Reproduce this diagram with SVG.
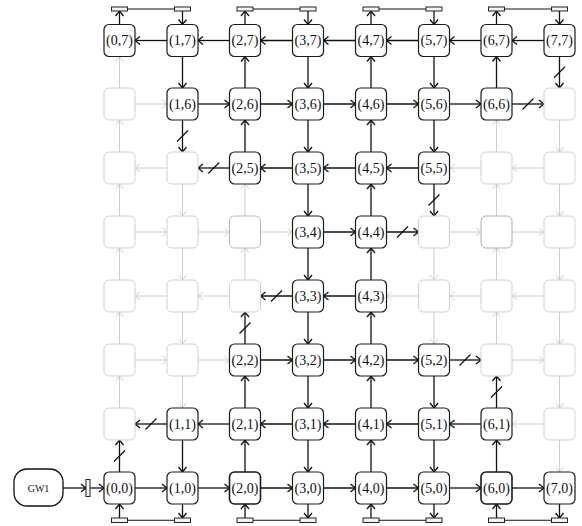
<svg xmlns="http://www.w3.org/2000/svg" width="582" height="526" viewBox="0 0 582 526">
  <style>
    .n rect { fill: #fff; stroke: #1a1a1a; stroke-width: 1.2; }
    .gn rect { fill: #fff; stroke: #d0d0d0; stroke-width: 1; }
    text { font-family: "Liberation Serif", "Times New Roman", serif; font-size: 14px; text-anchor: middle; dominant-baseline: central; fill: #111; }
    .k { stroke: #111; stroke-width: 1.3; fill: none; marker-end: url(#ah); }
    .g { stroke: #cccccc; stroke-width: 1; fill: none; marker-end: url(#ahg); }
    .s { stroke: #111; stroke-width: 1.3; }
    .port { fill: #f4f4f4; stroke: #222; stroke-width: 1; }
    .wire { stroke: #111; stroke-width: 1; }
  </style>
  <defs>
    <marker id="ah" viewBox="-7 -5 8 10" markerWidth="8" markerHeight="10" refX="0" refY="0" orient="auto" markerUnits="userSpaceOnUse" overflow="visible">
      <path d="M-5,-4 L0,0 L-5,4" fill="none" stroke="#111" stroke-width="1.3"/>
    </marker>
    <marker id="ahg" viewBox="-7 -5 8 10" markerWidth="8" markerHeight="10" refX="0" refY="0" orient="auto" markerUnits="userSpaceOnUse" overflow="visible">
      <path d="M-5,-4 L0,0 L-5,4" fill="none" stroke="#cccccc" stroke-width="1"/>
    </marker>
  </defs>
  <rect width="582" height="526" fill="#fff"/>

  <!-- links between routers -->
  <g id="edges">
    <!-- row 0 -->
    <line class="k" x1="135" y1="488" x2="167" y2="488"/>
    <line class="k" x1="198" y1="488" x2="229.5" y2="488"/>
    <line class="k" x1="260.5" y1="488" x2="292.5" y2="488"/>
    <line class="k" x1="323.5" y1="488" x2="355.5" y2="488"/>
    <line class="k" x1="386.5" y1="488" x2="418.5" y2="488"/>
    <line class="k" x1="449.5" y1="488" x2="481" y2="488"/>
    <line class="k" x1="512" y1="488" x2="544" y2="488"/>
    <!-- row 1 -->
    <line class="k" x1="167" y1="424" x2="135" y2="424"/>
    <line class="k" x1="229.5" y1="424" x2="198" y2="424"/>
    <line class="k" x1="292.5" y1="424" x2="260.5" y2="424"/>
    <line class="k" x1="355.5" y1="424" x2="323.5" y2="424"/>
    <line class="k" x1="418.5" y1="424" x2="386.5" y2="424"/>
    <line class="k" x1="481" y1="424" x2="449.5" y2="424"/>
    <line class="g" x1="544" y1="424" x2="512" y2="424"/>
    <!-- row 2 -->
    <line class="g" x1="135" y1="360" x2="167" y2="360"/>
    <line class="g" x1="198" y1="360" x2="229.5" y2="360"/>
    <line class="k" x1="260.5" y1="360" x2="292.5" y2="360"/>
    <line class="k" x1="323.5" y1="360" x2="355.5" y2="360"/>
    <line class="k" x1="386.5" y1="360" x2="418.5" y2="360"/>
    <line class="k" x1="449.5" y1="360" x2="481" y2="360"/>
    <line class="g" x1="512" y1="360" x2="544" y2="360"/>
    <!-- row 3 -->
    <line class="g" x1="167" y1="296" x2="135" y2="296"/>
    <line class="g" x1="229.5" y1="296" x2="198" y2="296"/>
    <line class="k" x1="292.5" y1="296" x2="260.5" y2="296"/>
    <line class="k" x1="355.5" y1="296" x2="323.5" y2="296"/>
    <line class="g" x1="418.5" y1="296" x2="386.5" y2="296"/>
    <line class="g" x1="481" y1="296" x2="449.5" y2="296"/>
    <line class="g" x1="544" y1="296" x2="512" y2="296"/>
    <!-- row 4 -->
    <line class="g" x1="135" y1="232" x2="167" y2="232"/>
    <line class="g" x1="198" y1="232" x2="229.5" y2="232"/>
    <line class="g" x1="260.5" y1="232" x2="292.5" y2="232"/>
    <line class="k" x1="323.5" y1="232" x2="355.5" y2="232"/>
    <line class="k" x1="386.5" y1="232" x2="418.5" y2="232"/>
    <line class="g" x1="449.5" y1="232" x2="481" y2="232"/>
    <line class="g" x1="512" y1="232" x2="544" y2="232"/>
    <!-- row 5 -->
    <line class="g" x1="167" y1="168" x2="135" y2="168"/>
    <line class="k" x1="229.5" y1="168" x2="198" y2="168"/>
    <line class="k" x1="292.5" y1="168" x2="260.5" y2="168"/>
    <line class="k" x1="355.5" y1="168" x2="323.5" y2="168"/>
    <line class="k" x1="418.5" y1="168" x2="386.5" y2="168"/>
    <line class="g" x1="481" y1="168" x2="449.5" y2="168"/>
    <line class="g" x1="544" y1="168" x2="512" y2="168"/>
    <!-- row 6 -->
    <line class="g" x1="135" y1="104" x2="167" y2="104"/>
    <line class="k" x1="198" y1="104" x2="229.5" y2="104"/>
    <line class="k" x1="260.5" y1="104" x2="292.5" y2="104"/>
    <line class="k" x1="323.5" y1="104" x2="355.5" y2="104"/>
    <line class="k" x1="386.5" y1="104" x2="418.5" y2="104"/>
    <line class="k" x1="449.5" y1="104" x2="481" y2="104"/>
    <line class="k" x1="512" y1="104" x2="544" y2="104"/>
    <!-- row 7 -->
    <line class="k" x1="167" y1="40.5" x2="135" y2="40.5"/>
    <line class="k" x1="229.5" y1="40.5" x2="198" y2="40.5"/>
    <line class="k" x1="292.5" y1="40.5" x2="260.5" y2="40.5"/>
    <line class="k" x1="355.5" y1="40.5" x2="323.5" y2="40.5"/>
    <line class="k" x1="418.5" y1="40.5" x2="386.5" y2="40.5"/>
    <line class="k" x1="481" y1="40.5" x2="449.5" y2="40.5"/>
    <line class="k" x1="544" y1="40.5" x2="512" y2="40.5"/>

    <!-- column 0 (upward) -->
    <line class="k" x1="119.5" y1="472" x2="119.5" y2="440"/>
    <line class="g" x1="119.5" y1="408" x2="119.5" y2="376"/>
    <line class="g" x1="119.5" y1="344" x2="119.5" y2="312"/>
    <line class="g" x1="119.5" y1="280" x2="119.5" y2="248"/>
    <line class="g" x1="119.5" y1="216" x2="119.5" y2="184"/>
    <line class="g" x1="119.5" y1="152" x2="119.5" y2="120"/>
    <line class="g" x1="119.5" y1="88" x2="119.5" y2="56.5"/>
    <!-- column 1 (downward) -->
    <line class="k" x1="182.5" y1="440" x2="182.5" y2="472"/>
    <line class="g" x1="182.5" y1="376" x2="182.5" y2="408"/>
    <line class="g" x1="182.5" y1="312" x2="182.5" y2="344"/>
    <line class="g" x1="182.5" y1="248" x2="182.5" y2="280"/>
    <line class="g" x1="182.5" y1="184" x2="182.5" y2="216"/>
    <line class="k" x1="182.5" y1="120" x2="182.5" y2="152"/>
    <line class="k" x1="182.5" y1="56.5" x2="182.5" y2="88"/>
    <!-- column 2 (upward) -->
    <line class="k" x1="245" y1="472" x2="245" y2="440"/>
    <line class="k" x1="245" y1="408" x2="245" y2="376"/>
    <line class="k" x1="245" y1="344" x2="245" y2="312"/>
    <line class="g" x1="245" y1="280" x2="245" y2="248"/>
    <line class="g" x1="245" y1="216" x2="245" y2="184"/>
    <line class="k" x1="245" y1="152" x2="245" y2="120"/>
    <line class="k" x1="245" y1="88" x2="245" y2="56.5"/>
    <!-- column 3 (downward) -->
    <line class="k" x1="308" y1="440" x2="308" y2="472"/>
    <line class="k" x1="308" y1="376" x2="308" y2="408"/>
    <line class="k" x1="308" y1="312" x2="308" y2="344"/>
    <line class="k" x1="308" y1="248" x2="308" y2="280"/>
    <line class="k" x1="308" y1="184" x2="308" y2="216"/>
    <line class="k" x1="308" y1="120" x2="308" y2="152"/>
    <line class="k" x1="308" y1="56.5" x2="308" y2="88"/>
    <!-- column 4 (upward) -->
    <line class="k" x1="371" y1="472" x2="371" y2="440"/>
    <line class="k" x1="371" y1="408" x2="371" y2="376"/>
    <line class="k" x1="371" y1="344" x2="371" y2="312"/>
    <line class="k" x1="371" y1="280" x2="371" y2="248"/>
    <line class="k" x1="371" y1="216" x2="371" y2="184"/>
    <line class="k" x1="371" y1="152" x2="371" y2="120"/>
    <line class="k" x1="371" y1="88" x2="371" y2="56.5"/>
    <!-- column 5 (downward) -->
    <line class="k" x1="434" y1="440" x2="434" y2="472"/>
    <line class="k" x1="434" y1="376" x2="434" y2="408"/>
    <line class="g" x1="434" y1="312" x2="434" y2="344"/>
    <line class="g" x1="434" y1="248" x2="434" y2="280"/>
    <line class="k" x1="434" y1="184" x2="434" y2="216"/>
    <line class="k" x1="434" y1="120" x2="434" y2="152"/>
    <line class="k" x1="434" y1="56.5" x2="434" y2="88"/>
    <!-- column 6 (upward) -->
    <line class="k" x1="496.5" y1="472" x2="496.5" y2="440"/>
    <line class="k" x1="496.5" y1="408" x2="496.5" y2="376"/>
    <line class="g" x1="496.5" y1="344" x2="496.5" y2="312"/>
    <line class="g" x1="496.5" y1="280" x2="496.5" y2="248"/>
    <line class="g" x1="496.5" y1="216" x2="496.5" y2="184"/>
    <line class="g" x1="496.5" y1="152" x2="496.5" y2="120"/>
    <line class="k" x1="496.5" y1="88" x2="496.5" y2="56.5"/>
    <!-- column 7 (downward) -->
    <line class="g" x1="559.5" y1="440" x2="559.5" y2="472"/>
    <line class="g" x1="559.5" y1="376" x2="559.5" y2="408"/>
    <line class="g" x1="559.5" y1="312" x2="559.5" y2="344"/>
    <line class="g" x1="559.5" y1="248" x2="559.5" y2="280"/>
    <line class="g" x1="559.5" y1="184" x2="559.5" y2="216"/>
    <line class="g" x1="559.5" y1="120" x2="559.5" y2="152"/>
    <line class="k" x1="559.5" y1="56.5" x2="559.5" y2="88"/>

    <!-- cut marks on broken links -->
    <line class="s" x1="145.5" y1="429.5" x2="156.5" y2="418.5"/>
    <line class="s" x1="459.5" y1="365.5" x2="470.5" y2="354.5"/>
    <line class="s" x1="271" y1="301.5" x2="282" y2="290.5"/>
    <line class="s" x1="397" y1="237.5" x2="408" y2="226.5"/>
    <line class="s" x1="208.25" y1="173.5" x2="219.25" y2="162.5"/>
    <line class="s" x1="522.5" y1="109.5" x2="533.5" y2="98.5"/>
    <line class="s" x1="114" y1="461.5" x2="125" y2="450.5"/>
    <line class="s" x1="177" y1="141.5" x2="188" y2="130.5"/>
    <line class="s" x1="239.5" y1="333.5" x2="250.5" y2="322.5"/>
    <line class="s" x1="428.5" y1="205.5" x2="439.5" y2="194.5"/>
    <line class="s" x1="491" y1="397.5" x2="502" y2="386.5"/>
    <line class="s" x1="554" y1="77.75" x2="565" y2="66.75"/>

    <!-- top edge ports -->
    <line class="k" x1="119.5" y1="24.5" x2="119.5" y2="11"/>
    <line class="k" x1="182.5" y1="11" x2="182.5" y2="24.5"/>
    <line class="k" x1="245" y1="24.5" x2="245" y2="11"/>
    <line class="k" x1="308" y1="11" x2="308" y2="24.5"/>
    <line class="k" x1="371" y1="24.5" x2="371" y2="11"/>
    <line class="k" x1="434" y1="11" x2="434" y2="24.5"/>
    <line class="k" x1="496.5" y1="24.5" x2="496.5" y2="11"/>
    <line class="k" x1="559.5" y1="11" x2="559.5" y2="24.5"/>
    <line class="wire" x1="127.5" y1="9" x2="174.5" y2="9"/>
    <line class="wire" x1="253" y1="9" x2="300" y2="9"/>
    <line class="wire" x1="379" y1="9" x2="426" y2="9"/>
    <line class="wire" x1="504.5" y1="9" x2="551.5" y2="9"/>

    <!-- bottom edge ports -->
    <line class="k" x1="119.5" y1="518" x2="119.5" y2="504"/>
    <line class="k" x1="182.5" y1="504" x2="182.5" y2="518"/>
    <line class="k" x1="245" y1="518" x2="245" y2="504"/>
    <line class="k" x1="308" y1="504" x2="308" y2="518"/>
    <line class="k" x1="371" y1="518" x2="371" y2="504"/>
    <line class="k" x1="434" y1="504" x2="434" y2="518"/>
    <line class="k" x1="496.5" y1="518" x2="496.5" y2="504"/>
    <line class="k" x1="559.5" y1="504" x2="559.5" y2="518"/>
    <line class="wire" x1="127.5" y1="520.25" x2="174.5" y2="520.25"/>
    <line class="wire" x1="253" y1="520.25" x2="300" y2="520.25"/>
    <line class="wire" x1="379" y1="520.25" x2="426" y2="520.25"/>
    <line class="wire" x1="504.5" y1="520.25" x2="551.5" y2="520.25"/>

    <!-- gateway link -->
    <line class="k" x1="63" y1="488" x2="86" y2="488"/>
    <line class="k" x1="90" y1="488" x2="104" y2="488"/>
  </g>

  <!-- port stubs -->
  <g id="ports">
    <rect class="port" x="111.5" y="7" width="16" height="4"/>
    <rect class="port" x="174.5" y="7" width="16" height="4"/>
    <rect class="port" x="237" y="7" width="16" height="4"/>
    <rect class="port" x="300" y="7" width="16" height="4"/>
    <rect class="port" x="363" y="7" width="16" height="4"/>
    <rect class="port" x="426" y="7" width="16" height="4"/>
    <rect class="port" x="488.5" y="7" width="16" height="4"/>
    <rect class="port" x="551.5" y="7" width="16" height="4"/>
    <rect class="port" x="111.5" y="518" width="16" height="4.5"/>
    <rect class="port" x="174.5" y="518" width="16" height="4.5"/>
    <rect class="port" x="237" y="518" width="16" height="4.5"/>
    <rect class="port" x="300" y="518" width="16" height="4.5"/>
    <rect class="port" x="363" y="518" width="16" height="4.5"/>
    <rect class="port" x="426" y="518" width="16" height="4.5"/>
    <rect class="port" x="488.5" y="518" width="16" height="4.5"/>
    <rect class="port" x="551.5" y="518" width="16" height="4.5"/>
    <rect class="port" x="86" y="479.5" width="4" height="17"/>
  </g>

  <!-- gateway -->
  <g id="gw1">
    <rect x="14" y="469" width="49" height="37" rx="13" fill="#fff" stroke="#111" stroke-width="1.3"/>
    <text x="38.5" y="488" style="font-size:10px">GW1</text>
  </g>

  <!-- routers: row 7 -->
  <g id="n0-7" class="n"><rect x="104" y="24.5" width="31" height="32" rx="5"/><text x="119.5" y="40.5">(0,7)</text></g>
  <g id="n1-7" class="n"><rect x="167" y="24.5" width="31" height="32" rx="5"/><text x="182.5" y="40.5">(1,7)</text></g>
  <g id="n2-7" class="n"><rect x="229.5" y="24.5" width="31" height="32" rx="5"/><text x="245" y="40.5">(2,7)</text></g>
  <g id="n3-7" class="n"><rect x="292.5" y="24.5" width="31" height="32" rx="5"/><text x="308" y="40.5">(3,7)</text></g>
  <g id="n4-7" class="n"><rect x="355.5" y="24.5" width="31" height="32" rx="5"/><text x="371" y="40.5">(4,7)</text></g>
  <g id="n5-7" class="n"><rect x="418.5" y="24.5" width="31" height="32" rx="5"/><text x="434" y="40.5">(5,7)</text></g>
  <g id="n6-7" class="n"><rect x="481" y="24.5" width="31" height="32" rx="5"/><text x="496.5" y="40.5">(6,7)</text></g>
  <g id="n7-7" class="n"><rect x="544" y="24.5" width="31" height="32" rx="5"/><text x="559.5" y="40.5">(7,7)</text></g>
  <!-- row 6 -->
  <g id="n0-6" class="gn"><rect x="104" y="88" width="31" height="32" rx="5"/></g>
  <g id="n1-6" class="n"><rect x="167" y="88" width="31" height="32" rx="5"/><text x="182.5" y="104">(1,6)</text></g>
  <g id="n2-6" class="n"><rect x="229.5" y="88" width="31" height="32" rx="5"/><text x="245" y="104">(2,6)</text></g>
  <g id="n3-6" class="n"><rect x="292.5" y="88" width="31" height="32" rx="5"/><text x="308" y="104">(3,6)</text></g>
  <g id="n4-6" class="n"><rect x="355.5" y="88" width="31" height="32" rx="5"/><text x="371" y="104">(4,6)</text></g>
  <g id="n5-6" class="n"><rect x="418.5" y="88" width="31" height="32" rx="5"/><text x="434" y="104">(5,6)</text></g>
  <g id="n6-6" class="n"><rect x="481" y="88" width="31" height="32" rx="5"/><text x="496.5" y="104">(6,6)</text></g>
  <g id="n7-6" class="gn"><rect x="544" y="88" width="31" height="32" rx="5"/></g>
  <!-- row 5 -->
  <g id="n0-5" class="gn"><rect x="104" y="152" width="31" height="32" rx="5"/></g>
  <g id="n1-5" class="gn"><rect x="167" y="152" width="31" height="32" rx="5"/></g>
  <g id="n2-5" class="n"><rect x="229.5" y="152" width="31" height="32" rx="5"/><text x="245" y="168">(2,5)</text></g>
  <g id="n3-5" class="n"><rect x="292.5" y="152" width="31" height="32" rx="5"/><text x="308" y="168">(3,5)</text></g>
  <g id="n4-5" class="n"><rect x="355.5" y="152" width="31" height="32" rx="5"/><text x="371" y="168">(4,5)</text></g>
  <g id="n5-5" class="n"><rect x="418.5" y="152" width="31" height="32" rx="5"/><text x="434" y="168">(5,5)</text></g>
  <g id="n6-5" class="gn"><rect x="481" y="152" width="31" height="32" rx="5"/></g>
  <g id="n7-5" class="gn"><rect x="544" y="152" width="31" height="32" rx="5"/></g>
  <!-- row 4 -->
  <g id="n0-4" class="gn"><rect x="104" y="216" width="31" height="32" rx="5"/></g>
  <g id="n1-4" class="gn"><rect x="167" y="216" width="31" height="32" rx="5"/></g>
  <g id="n2-4" class="gn"><rect x="229.5" y="216" width="31" height="32" rx="5" style="stroke:#b8b8b8"/></g>
  <g id="n3-4" class="n"><rect x="292.5" y="216" width="31" height="32" rx="5"/><text x="308" y="232">(3,4)</text></g>
  <g id="n4-4" class="n"><rect x="355.5" y="216" width="31" height="32" rx="5"/><text x="371" y="232">(4,4)</text></g>
  <g id="n5-4" class="gn"><rect x="418.5" y="216" width="31" height="32" rx="5"/></g>
  <g id="n6-4" class="gn"><rect x="481" y="216" width="31" height="32" rx="5" style="stroke:#b0b0b0"/></g>
  <g id="n7-4" class="gn"><rect x="544" y="216" width="31" height="32" rx="5"/></g>
  <!-- row 3 -->
  <g id="n0-3" class="gn"><rect x="104" y="280" width="31" height="32" rx="5"/></g>
  <g id="n1-3" class="gn"><rect x="167" y="280" width="31" height="32" rx="5"/></g>
  <g id="n2-3" class="gn"><rect x="229.5" y="280" width="31" height="32" rx="5"/></g>
  <g id="n3-3" class="n"><rect x="292.5" y="280" width="31" height="32" rx="5"/><text x="308" y="296">(3,3)</text></g>
  <g id="n4-3" class="n"><rect x="355.5" y="280" width="31" height="32" rx="5"/><text x="371" y="296">(4,3)</text></g>
  <g id="n5-3" class="gn"><rect x="418.5" y="280" width="31" height="32" rx="5"/></g>
  <g id="n6-3" class="gn"><rect x="481" y="280" width="31" height="32" rx="5"/></g>
  <g id="n7-3" class="gn"><rect x="544" y="280" width="31" height="32" rx="5"/></g>
  <!-- row 2 -->
  <g id="n0-2" class="gn"><rect x="104" y="344" width="31" height="32" rx="5"/></g>
  <g id="n1-2" class="gn"><rect x="167" y="344" width="31" height="32" rx="5"/></g>
  <g id="n2-2" class="n"><rect x="229.5" y="344" width="31" height="32" rx="5"/><text x="245" y="360">(2,2)</text></g>
  <g id="n3-2" class="n"><rect x="292.5" y="344" width="31" height="32" rx="5"/><text x="308" y="360">(3,2)</text></g>
  <g id="n4-2" class="n"><rect x="355.5" y="344" width="31" height="32" rx="5"/><text x="371" y="360">(4,2)</text></g>
  <g id="n5-2" class="n"><rect x="418.5" y="344" width="31" height="32" rx="5"/><text x="434" y="360">(5,2)</text></g>
  <g id="n6-2" class="gn"><rect x="481" y="344" width="31" height="32" rx="5"/></g>
  <g id="n7-2" class="gn"><rect x="544" y="344" width="31" height="32" rx="5"/></g>
  <!-- row 1 -->
  <g id="n0-1" class="gn"><rect x="104" y="408" width="31" height="32" rx="5"/></g>
  <g id="n1-1" class="n"><rect x="167" y="408" width="31" height="32" rx="5"/><text x="182.5" y="424">(1,1)</text></g>
  <g id="n2-1" class="n"><rect x="229.5" y="408" width="31" height="32" rx="5"/><text x="245" y="424">(2,1)</text></g>
  <g id="n3-1" class="n"><rect x="292.5" y="408" width="31" height="32" rx="5"/><text x="308" y="424">(3,1)</text></g>
  <g id="n4-1" class="n"><rect x="355.5" y="408" width="31" height="32" rx="5"/><text x="371" y="424">(4,1)</text></g>
  <g id="n5-1" class="n"><rect x="418.5" y="408" width="31" height="32" rx="5"/><text x="434" y="424">(5,1)</text></g>
  <g id="n6-1" class="n"><rect x="481" y="408" width="31" height="32" rx="5"/><text x="496.5" y="424">(6,1)</text></g>
  <g id="n7-1" class="gn"><rect x="544" y="408" width="31" height="32" rx="5"/></g>
  <!-- row 0 -->
  <g id="n0-0" class="n"><rect x="104" y="472" width="31" height="32" rx="5"/><text x="119.5" y="488">(0,0)</text></g>
  <g id="n1-0" class="n"><rect x="167" y="472" width="31" height="32" rx="5"/><text x="182.5" y="488">(1,0)</text></g>
  <g id="n2-0" class="n"><rect x="229.5" y="472" width="31" height="32" rx="5" style="stroke-width:1.6"/><text x="245" y="488">(2,0)</text></g>
  <g id="n3-0" class="n"><rect x="292.5" y="472" width="31" height="32" rx="5"/><text x="308" y="488">(3,0)</text></g>
  <g id="n4-0" class="n"><rect x="355.5" y="472" width="31" height="32" rx="5"/><text x="371" y="488">(4,0)</text></g>
  <g id="n5-0" class="n"><rect x="418.5" y="472" width="31" height="32" rx="5"/><text x="434" y="488">(5,0)</text></g>
  <g id="n6-0" class="n"><rect x="481" y="472" width="31" height="32" rx="5" style="stroke-width:1.6"/><text x="496.5" y="488">(6,0)</text></g>
  <g id="n7-0" class="n"><rect x="544" y="472" width="31" height="32" rx="5"/><text x="559.5" y="488">(7,0)</text></g>
</svg>
